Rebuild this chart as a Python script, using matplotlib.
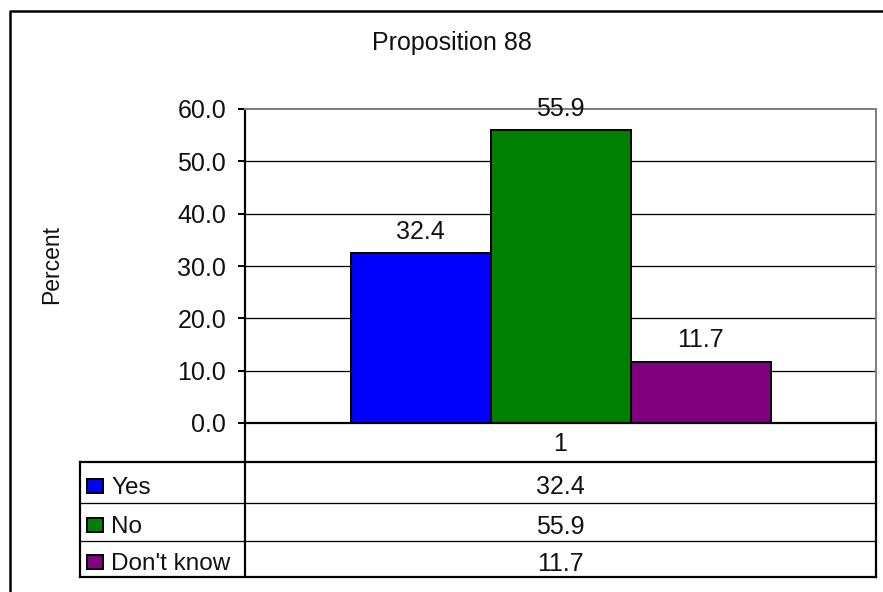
import matplotlib
matplotlib.use("Agg")
import matplotlib.pyplot as plt
from matplotlib.lines import Line2D
from matplotlib.patches import Rectangle

# ---- data ----
title = "Proposition 88"
ylabel = "Percent"
category = "1"
series = ["Yes", "No", "Don't know"]
values = [32.4, 55.9, 11.7]
colors = ["#0000FF", "#008000", "#800080"]
yticks = [0, 10, 20, 30, 40, 50, 60]

W, H = 883, 592
DPI = 100
plt.rcParams['font.family'] = ['Liberation Sans', 'DejaVu Sans']
fig = plt.figure(figsize=(W / DPI, H / DPI), dpi=DPI)
fig.patch.set_facecolor("white")

NUM_FS = 18
LAB_FS = 17.5
TXT = "#111111"

def fx(x):
    return x / W

def fy(y):
    return 1 - y / H

def px(p):  # pixels -> points
    return p * 72 / DPI

# plot area
L, R, T, B = 245, 876, 109, 423
ax = fig.add_axes([fx(L), fy(B), fx(R) - fx(L), fy(T) - fy(B)])
ax.set_xlim(0, 1)
ax.set_ylim(0, 60)
ax.set_facecolor("white")

bw = 140 / (R - L)
n = len(values)
xs = [0.5 + (i - (n - 1) / 2) * bw for i in range(n)]
for yv in yticks[1:-1]:
    ax.axhline(yv, color="black", lw=px(1.3), zorder=0.5)
bars = ax.bar(xs, values, width=bw, color=colors, edgecolor="black",
              linewidth=px(2), zorder=2)
for x, v in zip(xs, values):
    ax.annotate(f"{v:.1f}", (x, v), xytext=(0, 7), textcoords="offset points",
                ha="center", va="bottom", fontsize=NUM_FS, color=TXT)

ax.set_yticks(yticks)
ax.set_yticklabels([f"{t:.1f}" for t in yticks], fontsize=NUM_FS, color=TXT)
ax.set_xticks([])
ax.tick_params(axis="y", direction="out", length=px(7), width=px(2), pad=px(12))
for s in ["left", "bottom"]:
    ax.spines[s].set_color("black")
    ax.spines[s].set_linewidth(px(2.2))
for s in ["top", "right"]:
    ax.spines[s].set_color("#808080")
    ax.spines[s].set_linewidth(px(2))

# title and y label
fig.text(fx(452), fy(43), title, ha="center", va="center", fontsize=18, color=TXT)
fig.text(fx(52), fy(265), ylabel, ha="center", va="center", rotation=90,
         fontsize=16.5, color=TXT)

# outer chart border (top and left visible)
fig.add_artist(Line2D([fx(10), fx(10), fx(W + 5)], [fy(H + 5), fy(11), fy(11)],
                      color="black", lw=px(2.5), transform=fig.transFigure))

# data table
def hline(y, x0, x1, w):
    fig.add_artist(Line2D([fx(x0), fx(x1)], [fy(y), fy(y)], color="black",
                          lw=px(w), transform=fig.transFigure))

def vline(x, y0, y1, w):
    fig.add_artist(Line2D([fx(x), fx(x)], [fy(y0), fy(y1)], color="black",
                          lw=px(w), transform=fig.transFigure))

row_lines = [462, 503, 541, 577]
vline(L, B, 577, 2.2)
vline(R, B, 577, 2.2)
vline(80, 462, 577, 2.2)
hline(462, 80, R, 2.2)
hline(503, 80, R, 1.3)
hline(541, 80, R, 1.3)
hline(577, 80, R, 2.2)

xc = (L + R) / 2
fig.text(fx(xc), fy(444), category, ha="center", va="center", fontsize=NUM_FS, color=TXT)
for i, (name, v, c) in enumerate(zip(series, values, colors)):
    yc = (row_lines[i] + row_lines[i + 1]) / 2 + 5
    fig.add_artist(Rectangle((fx(87), fy(yc + 5)), fx(16), 14 / H, facecolor=c,
                             edgecolor="black", lw=px(2), transform=fig.transFigure))
    fig.text(fx(111), fy(yc), name, ha="left", va="center", fontsize=LAB_FS, color=TXT)
    fig.text(fx(xc), fy(yc), f"{v:.1f}", ha="center", va="center", fontsize=NUM_FS,
             color=TXT)

fig.savefig("out.png", dpi=DPI, facecolor="white")
